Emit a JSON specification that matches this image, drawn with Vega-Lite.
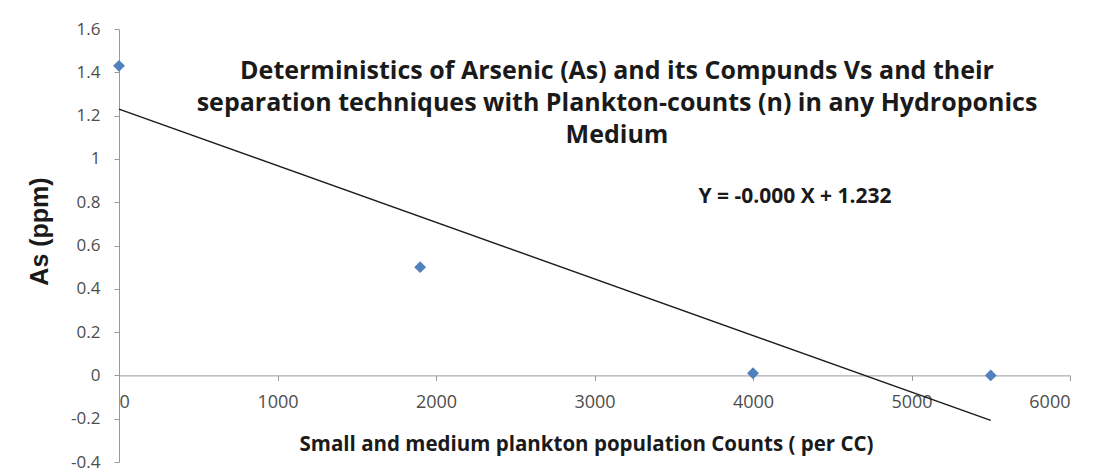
{
  "$schema": "https://vega.github.io/schema/vega-lite/v6.json",
  "width": 951,
  "height": 433,
  "autosize": "none",
  "padding": {"left": 119, "top": 29, "right": 24, "bottom": 11},
  "background": "white",
  "config": {
    "view": {"stroke": null},
    "font": "Open Sans"
  },
  "layer": [
    {
      "data": {"name": "obs", "values": [
        {"Counts": 0, "As": 1.43},
        {"Counts": 1900, "As": 0.5},
        {"Counts": 4000, "As": 0.01},
        {"Counts": 5500, "As": 0.0}
      ]},
      "transform": [{"regression": "As", "on": "Counts", "extent": [0, 5500]}],
      "mark": {"type": "line", "color": "#1a1a1a", "strokeWidth": 1.4, "clip": false},
      "encoding": {
        "x": {"field": "Counts", "type": "quantitative"},
        "y": {"field": "As", "type": "quantitative"}
      }
    },
    {
      "data": {"name": "obs"},
      "mark": {"type": "point", "shape": "diamond", "filled": true, "color": "#4F81BD", "size": 140, "opacity": 1},
      "encoding": {
        "x": {
          "field": "Counts", "type": "quantitative",
          "scale": {"domain": [0, 6000], "nice": false, "zero": false},
          "axis": {
            "title": "Small and medium plankton population Counts ( per CC)",
            "titleFont": "Open Sans", "titleFontSize": 20.5, "titleFontWeight": "bold", "titleColor": "#1a1a1a",
            "titlePadding": 23,
            "titleX": 467,
            "values": [0, 1000, 2000, 3000, 4000, 5000, 6000],
            "format": "d",
            "offset": -86.6,
            "grid": false,
            "domainColor": "#9a9a9a", "tickColor": "#9a9a9a", "tickSize": 5,
            "labelFont": "Open Sans", "labelFontSize": 18, "labelColor": "#4d4d4d", "labelPadding": 13
          }
        },
        "y": {
          "field": "As", "type": "quantitative",
          "scale": {"domain": [-0.4, 1.6], "nice": false, "zero": false},
          "axis": {
            "title": "As (ppm)",
            "titleFont": "Liberation Sans", "titleFontSize": 25, "titleFontWeight": "bold", "titleColor": "#1a1a1a",
            "titlePadding": 18,
            "titleY": 202,
            "values": [-0.4, -0.2, 0, 0.2, 0.4, 0.6, 0.8, 1, 1.2, 1.4, 1.6],
            "labelExpr": "replace(format(datum.value, '~g'), '\u2212', '-')",
            "grid": false,
            "domainColor": "#9a9a9a", "tickColor": "#9a9a9a", "tickSize": 5,
            "labelFont": "Open Sans", "labelFontSize": 17, "labelColor": "#4d4d4d", "labelPadding": 14
          }
        }
      }
    },
    {
      "data": {"values": [{"label": "Deterministics of Arsenic (As)  and its Compunds Vs and their\nseparation techniques with Plankton-counts (n)  in any Hydroponics\nMedium"}]},
      "mark": {"type": "text", "lineBreak": "\n", "lineHeight": 32, "font": "Open Sans", "fontSize": 25, "fontWeight": "bold", "color": "#1a1a1a", "align": "center", "baseline": "middle"},
      "encoding": {
        "text": {"field": "label"},
        "x": {"datum": 3142, "type": "quantitative"},
        "y": {"datum": 1.408, "type": "quantitative"}
      }
    },
    {
      "data": {"values": [{"label": "Y = -0.000 X  + 1.232"}]},
      "mark": {"type": "text", "font": "Open Sans", "fontSize": 21, "fontWeight": "bold", "color": "#1a1a1a", "align": "center", "baseline": "middle"},
      "encoding": {
        "text": {"field": "label"},
        "x": {"datum": 4265, "type": "quantitative"},
        "y": {"datum": 0.826, "type": "quantitative"}
      }
    }
  ]
}
